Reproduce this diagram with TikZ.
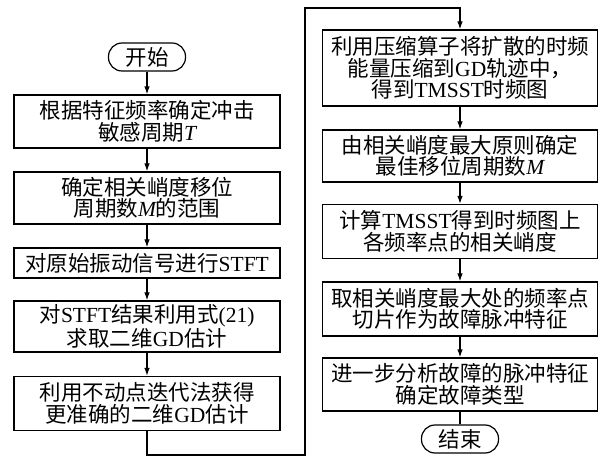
\documentclass[tikz,border=0pt]{standalone}
\usepackage{fontspec}
\setmainfont{Noto Sans CJK SC}
\newfontfamily\lat{Liberation Serif}
\usetikzlibrary{arrows.meta}
\tikzset{
  box/.style={draw, line width=1.2bp, minimum width=266bp, align=center, inner sep=0pt,
    font=\fontsize{21.5bp}{21.5bp}\selectfont},
  rbox/.style={box, minimum width=275bp},
  term/.style={draw, line width=1.2bp, rounded corners=13.5bp, minimum width=77bp, minimum height=28bp,
    inner sep=0pt, font=\fontsize{21.5bp}{21.5bp}\selectfont},
  arr/.style={-{Latex[length=8bp,width=5.5bp]}, line width=1.2bp},
  ln/.style={line width=1.2bp}
}
\begin{document}
\begin{tikzpicture}[x=1bp,y=-1bp]
\useasboundingbox (0,0) rectangle (599,457);
% left column
\node[term] (s) at (147,57) {开始};
\node[box, minimum height=53bp] (b1) at (147,121.5) {根据特征频率确定冲击\\敏感周期{\lat\itshape T}};
\node[box, minimum height=52bp] (b2) at (147,198) {确定相关峭度移位\\周期数{\lat\itshape M}的范围};
\node[box, minimum height=30bp] (b3) at (147,263) {对原始振动信号进行{\lat STFT}};
\node[box, minimum height=51bp] (b4) at (147,326.5) {对{\lat STFT}结果利用式{\lat (21)}\\求取二维{\lat GD}估计};
\node[box, minimum height=54bp] (b5) at (147,403.5) {利用不动点迭代法获得\\更准确的二维{\lat GD}估计};
% right column
\node[rbox, minimum height=76bp] (b6) at (460,68) {利用压缩算子将扩散的时频\\能量压缩到{\lat GD}轨迹中，\\得到{\lat TMSST}时频图};
\node[rbox, minimum height=52bp] (b7) at (460,156) {由相关峭度最大原则确定\\最佳移位周期数{\lat\itshape M}};
\node[rbox, minimum height=54bp] (b8) at (460,231.5) {计算{\lat TMSST}得到时频图上\\各频率点的相关峭度};
\node[rbox, minimum height=54bp] (b9) at (460,309) {取相关峭度最大处的频率点\\切片作为故障脉冲特征};
\node[rbox, minimum height=53bp] (b10) at (460,384.5) {进一步分析故障的脉冲特征\\确定故障类型};
\node[term] (e) at (460,439) {结束};
% connectors
\draw[arr] (s) -- (b1);
\draw[arr] (b1) -- (b2);
\draw[arr] (b2) -- (b3);
\draw[arr] (b3) -- (b4);
\draw[arr] (b4) -- (b5);
\coordinate (c1) at (147,455);
\coordinate (c2) at (305,455);
\coordinate (c3) at (305,8);
\coordinate (c4) at (460,8);
\draw[arr] (b5.south) -- (c1) -- (c2) -- (c3) -- (c4) -- (b6.north);
\draw[arr] (b6) -- (b7);
\draw[arr] (b7) -- (b8);
\draw[arr] (b8) -- (b9);
\draw[arr] (b9) -- (b10);
\draw[ln] (b10) -- (e);
\end{tikzpicture}
\end{document}
